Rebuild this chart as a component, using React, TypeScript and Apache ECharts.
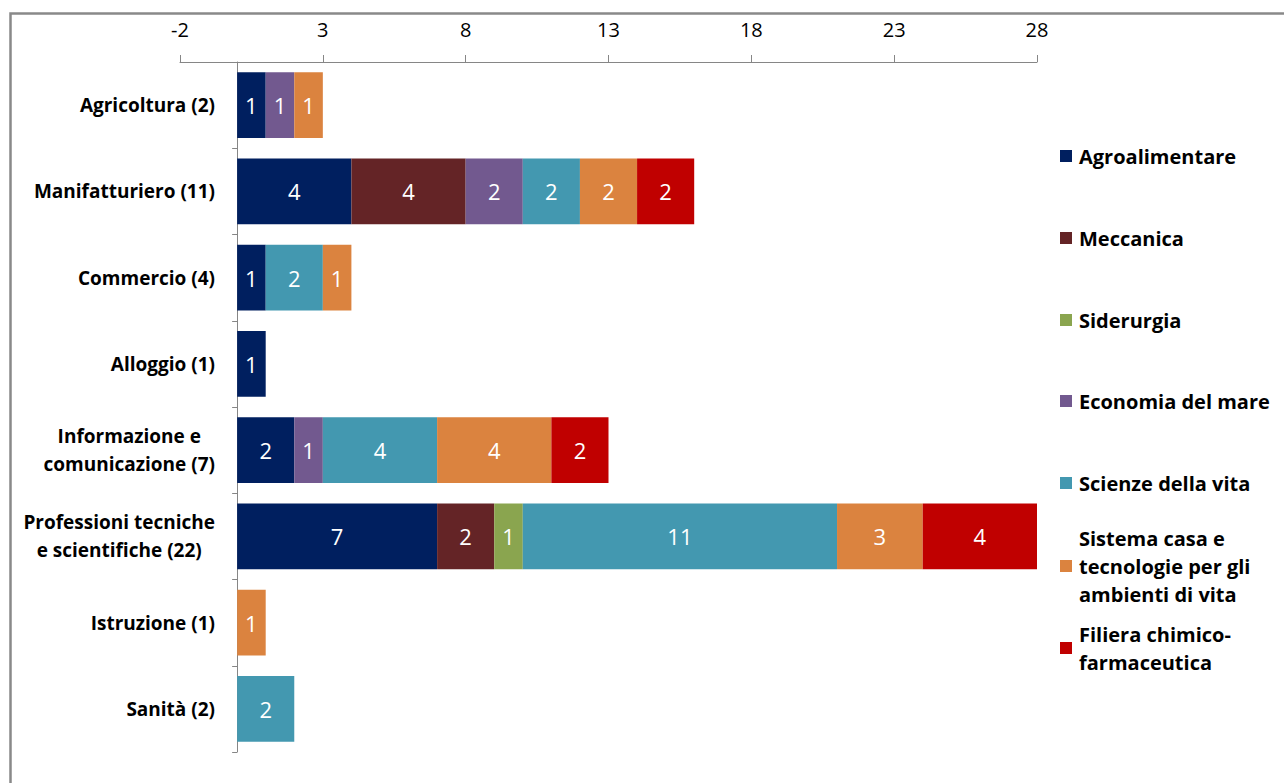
import React, { useEffect, useRef } from "react";
import * as echarts from "echarts";

const categories = [
  "Agricoltura (2)",
  "Manifatturiero (11)",
  "Commercio (4)",
  "Alloggio (1)",
  "Informazione e\ncomunicazione (7)",
  "Professioni tecniche\ne scientifiche (22)",
  "Istruzione (1)",
  "Sanità (2)",
];

const seriesNames = [
  "Agroalimentare",
  "Meccanica",
  "Siderurgia",
  "Economia del mare",
  "Scienze della vita",
  "Sistema casa e tecnologie per gli ambienti di vita",
  "Filiera chimico-farmaceutica",
];

const legendLines = [
  ["Agroalimentare"],
  ["Meccanica"],
  ["Siderurgia"],
  ["Economia del mare"],
  ["Scienze della vita"],
  ["Sistema casa e", "tecnologie per gli", "ambienti di vita"],
  ["Filiera chimico-", "farmaceutica"],
];

const agroalimentare = [1, 4, 1, 1, 2, 7, 0, 0];
const meccanica = [0, 4, 0, 0, 0, 2, 0, 0];
const siderurgia = [0, 0, 0, 0, 0, 1, 0, 0];
const economiaMare = [1, 2, 0, 0, 1, 0, 0, 0];
const scienzeVita = [0, 2, 2, 0, 4, 11, 0, 2];
const sistemaCasa = [1, 2, 1, 0, 4, 3, 1, 0];
const filieraChimica = [0, 2, 0, 0, 2, 4, 0, 0];

const seriesValues = [
  agroalimentare,
  meccanica,
  siderurgia,
  economiaMare,
  scienzeVita,
  sistemaCasa,
  filieraChimica,
];

const colors = ["#001F5F", "#642426", "#8AA54F", "#72598F", "#4398B0", "#DB833F", "#C00000"];

const xTicks = { min: -2, max: 28, interval: 5 };

const FONT = "Open Sans";
const legendIconCenters = [156, 238, 320, 401, 483, 566, 648];

export default function App() {
  const ref = useRef<HTMLDivElement>(null);

  useEffect(() => {
    if (!ref.current) return;
    const chart = echarts.init(ref.current, undefined, { renderer: "svg" });

    const LH = 28;
    const legends = seriesNames.map((name, i) => {
      const lines = legendLines[i];
      const extra = (lines.length - 1) * LH;
      const pad = extra * 2;
      const blockH = lines.length * LH + pad;
      const top = legendIconCenters[i] - blockH / 2;
      return {
        data: [name],
        orient: "vertical",
        left: 1060,
        top: top,
        padding: 0,
        itemWidth: 12,
        itemHeight: 12,
        icon: "rect",
        selectedMode: false,
        formatter: () => lines.join("\n"),
        textStyle: {
          fontFamily: FONT,
          fontWeight: "bold",
          fontSize: 20,
          color: "#000",
          lineHeight: LH,
          padding: [pad, 0, 0, 2],
        },
      };
    });

    const option = {
      animation: false,
      backgroundColor: "#fff",
      grid: {
        left: 180,
        right: 247,
        top: 62,
        bottom: 31,
        containLabel: false,
        outerBoundsMode: "none",
      },
      legend: legends,
      xAxis: {
        type: "value",
        position: "top",
        min: xTicks.min,
        max: xTicks.max,
        interval: xTicks.interval,
        axisLine: { show: true, lineStyle: { color: "#868686", width: 1 } },
        axisTick: { show: true, length: 7, lineStyle: { color: "#868686" } },
        axisLabel: { fontFamily: FONT, fontSize: 20, color: "#000", margin: 23 },
        splitLine: { show: false },
      },
      yAxis: {
        type: "category",
        inverse: true,
        data: categories,
        axisLine: { show: true, onZero: true, lineStyle: { color: "#868686", width: 1 } },
        axisTick: { show: true, length: 5, lineStyle: { color: "#868686" } },
        axisLabel: {
          margin: -35,
          formatter: (v: string) =>
            v
              .split("\n")
              .map((l) => `{c|${l}}`)
              .join("\n"),
          rich: {
            c: {
              fontFamily: FONT,
              fontWeight: "bold",
              fontSize: 19,
              color: "#000",
              lineHeight: 28,
              align: "center",
            },
          },
        },
      },
      graphic: [
        {
          type: "rect",
          shape: { x: 10.5, y: 13.5, width: 1500, height: 1000 },
          style: { fill: "none", stroke: "#898989", lineWidth: 2.5 },
          silent: true,
          z: 100,
        },
      ],
      series: seriesNames.map((name, i) => ({
        name,
        type: "bar",
        stack: "total",
        barCategoryGap: "24%",
        itemStyle: { color: colors[i] },
        label: {
          show: true,
          position: "inside",
          color: "#fff",
          fontFamily: FONT,
          fontSize: 22,
          textBorderWidth: 0,
          formatter: (p: any) => (p.value ? String(p.value) : ""),
        },
        emphasis: { disabled: true },
        data: seriesValues[i],
      })),
    };

    chart.setOption(option as any);
    return () => chart.dispose();
  }, []);

  return (
    <div
      ref={ref}
      style={{ position: "fixed", left: 0, top: 0, width: 1284, height: 783, background: "#fff" }}
    />
  );
}
